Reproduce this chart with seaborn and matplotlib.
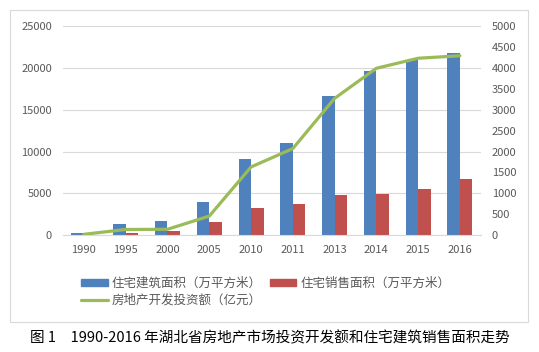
import numpy as np
import pandas as pd
import matplotlib
matplotlib.use("Agg")
import matplotlib.pyplot as plt
from matplotlib.patches import Rectangle
import seaborn as sns

# Données
years = ["1990", "1995", "2000", "2005", "2010", "2011", "2013", "2014", "2015", "2016"]
build_area = [300, 1300, 1700, 4000, 9100, 11000, 16600, 19600, 20900, 21800]
sale_area = [50, 200, 500, 1550, 3250, 3750, 4800, 4950, 5550, 6700]
investment = [20, 135, 140, 455, 1630, 2070, 3270, 3990, 4230, 4290]

label_build = "住宅建筑面积（万平方米）"
label_sale = "住宅销售面积（万平方米）"
label_inv = "房地产开发投资额（亿元）"
caption = "图 1　1990-2016 年湖北省房地产市场投资开发额和住宅建筑销售面积走势"

colors = {label_build: "#4F81BD", label_sale: "#C0504D"}
green = "#9BBB59"

sns.set_style("white")
plt.rcParams["font.family"] = ["Noto Sans CJK SC", "DejaVu Sans"]

df = pd.DataFrame({"year": years, label_build: build_area, label_sale: sale_area})
long_df = df.melt(id_vars="year", var_name="serie", value_name="valeur")

fig = plt.figure(figsize=(5.39, 3.52), dpi=100)
ax = fig.add_axes([0.117, 0.332, 0.775, 0.594])

sns.barplot(data=long_df, x="year", y="valeur", hue="serie", palette=colors,
            width=0.6, saturation=1, linewidth=0, ax=ax, legend=False)

ax.set_ylim(0, 25000)
ax.set_yticks(np.arange(0, 25001, 5000))
ax.grid(axis="y", color="#D9D9D9", linewidth=0.8)
ax.set_axisbelow(True)
ax.set_xlim(-0.5, len(years) - 0.5)
ax.set_xlabel("")
ax.set_ylabel("")
for s in ax.spines.values():
    s.set_visible(False)
ax.spines["bottom"].set_visible(True)
ax.spines["bottom"].set_color("#D9D9D9")
ax.tick_params(axis="both", length=0, labelsize=8, colors="#595959")
ax.tick_params(axis="y", pad=8)
ax.tick_params(axis="x", pad=7)

ax2 = ax.twinx()
sns.lineplot(x=np.arange(len(years)), y=investment, color=green, linewidth=2.3, ax=ax2)
ax2.set_ylim(0, 5000)
ax2.set_yticks(np.arange(0, 5001, 500))
for s in ax2.spines.values():
    s.set_visible(False)
ax2.tick_params(axis="y", length=0, labelsize=8, colors="#595959", pad=8)
ax2.set_xlim(-0.5, len(years) - 0.5)

# Légende
handles = [
    Rectangle((0, 0), 1, 0.45, color=colors[label_build]),
    plt.Line2D([0], [0], color=green, linewidth=2.3),
    Rectangle((0, 0), 1, 0.45, color=colors[label_sale]),
]
fig.legend(handles, [label_build, label_inv, label_sale], ncol=2,
           loc="upper left", bbox_to_anchor=(0.13, 0.245), frameon=False,
           fontsize=9, handlelength=2.1, handleheight=0.45, handletextpad=0.3,
           columnspacing=0.7, labelspacing=0.3, labelcolor="#595959")

# Cadre du graphique
fig.patches.append(Rectangle((10 / 539, 1 - 322 / 352), 518 / 539, 312 / 352,
                             transform=fig.transFigure, fill=False,
                             edgecolor="#D9D9D9", linewidth=0.8))

fig.text(0.5, 1 - 338 / 352, caption, ha="center", va="center", fontsize=10.5, color="black")

fig.savefig("out.png", dpi=100)
